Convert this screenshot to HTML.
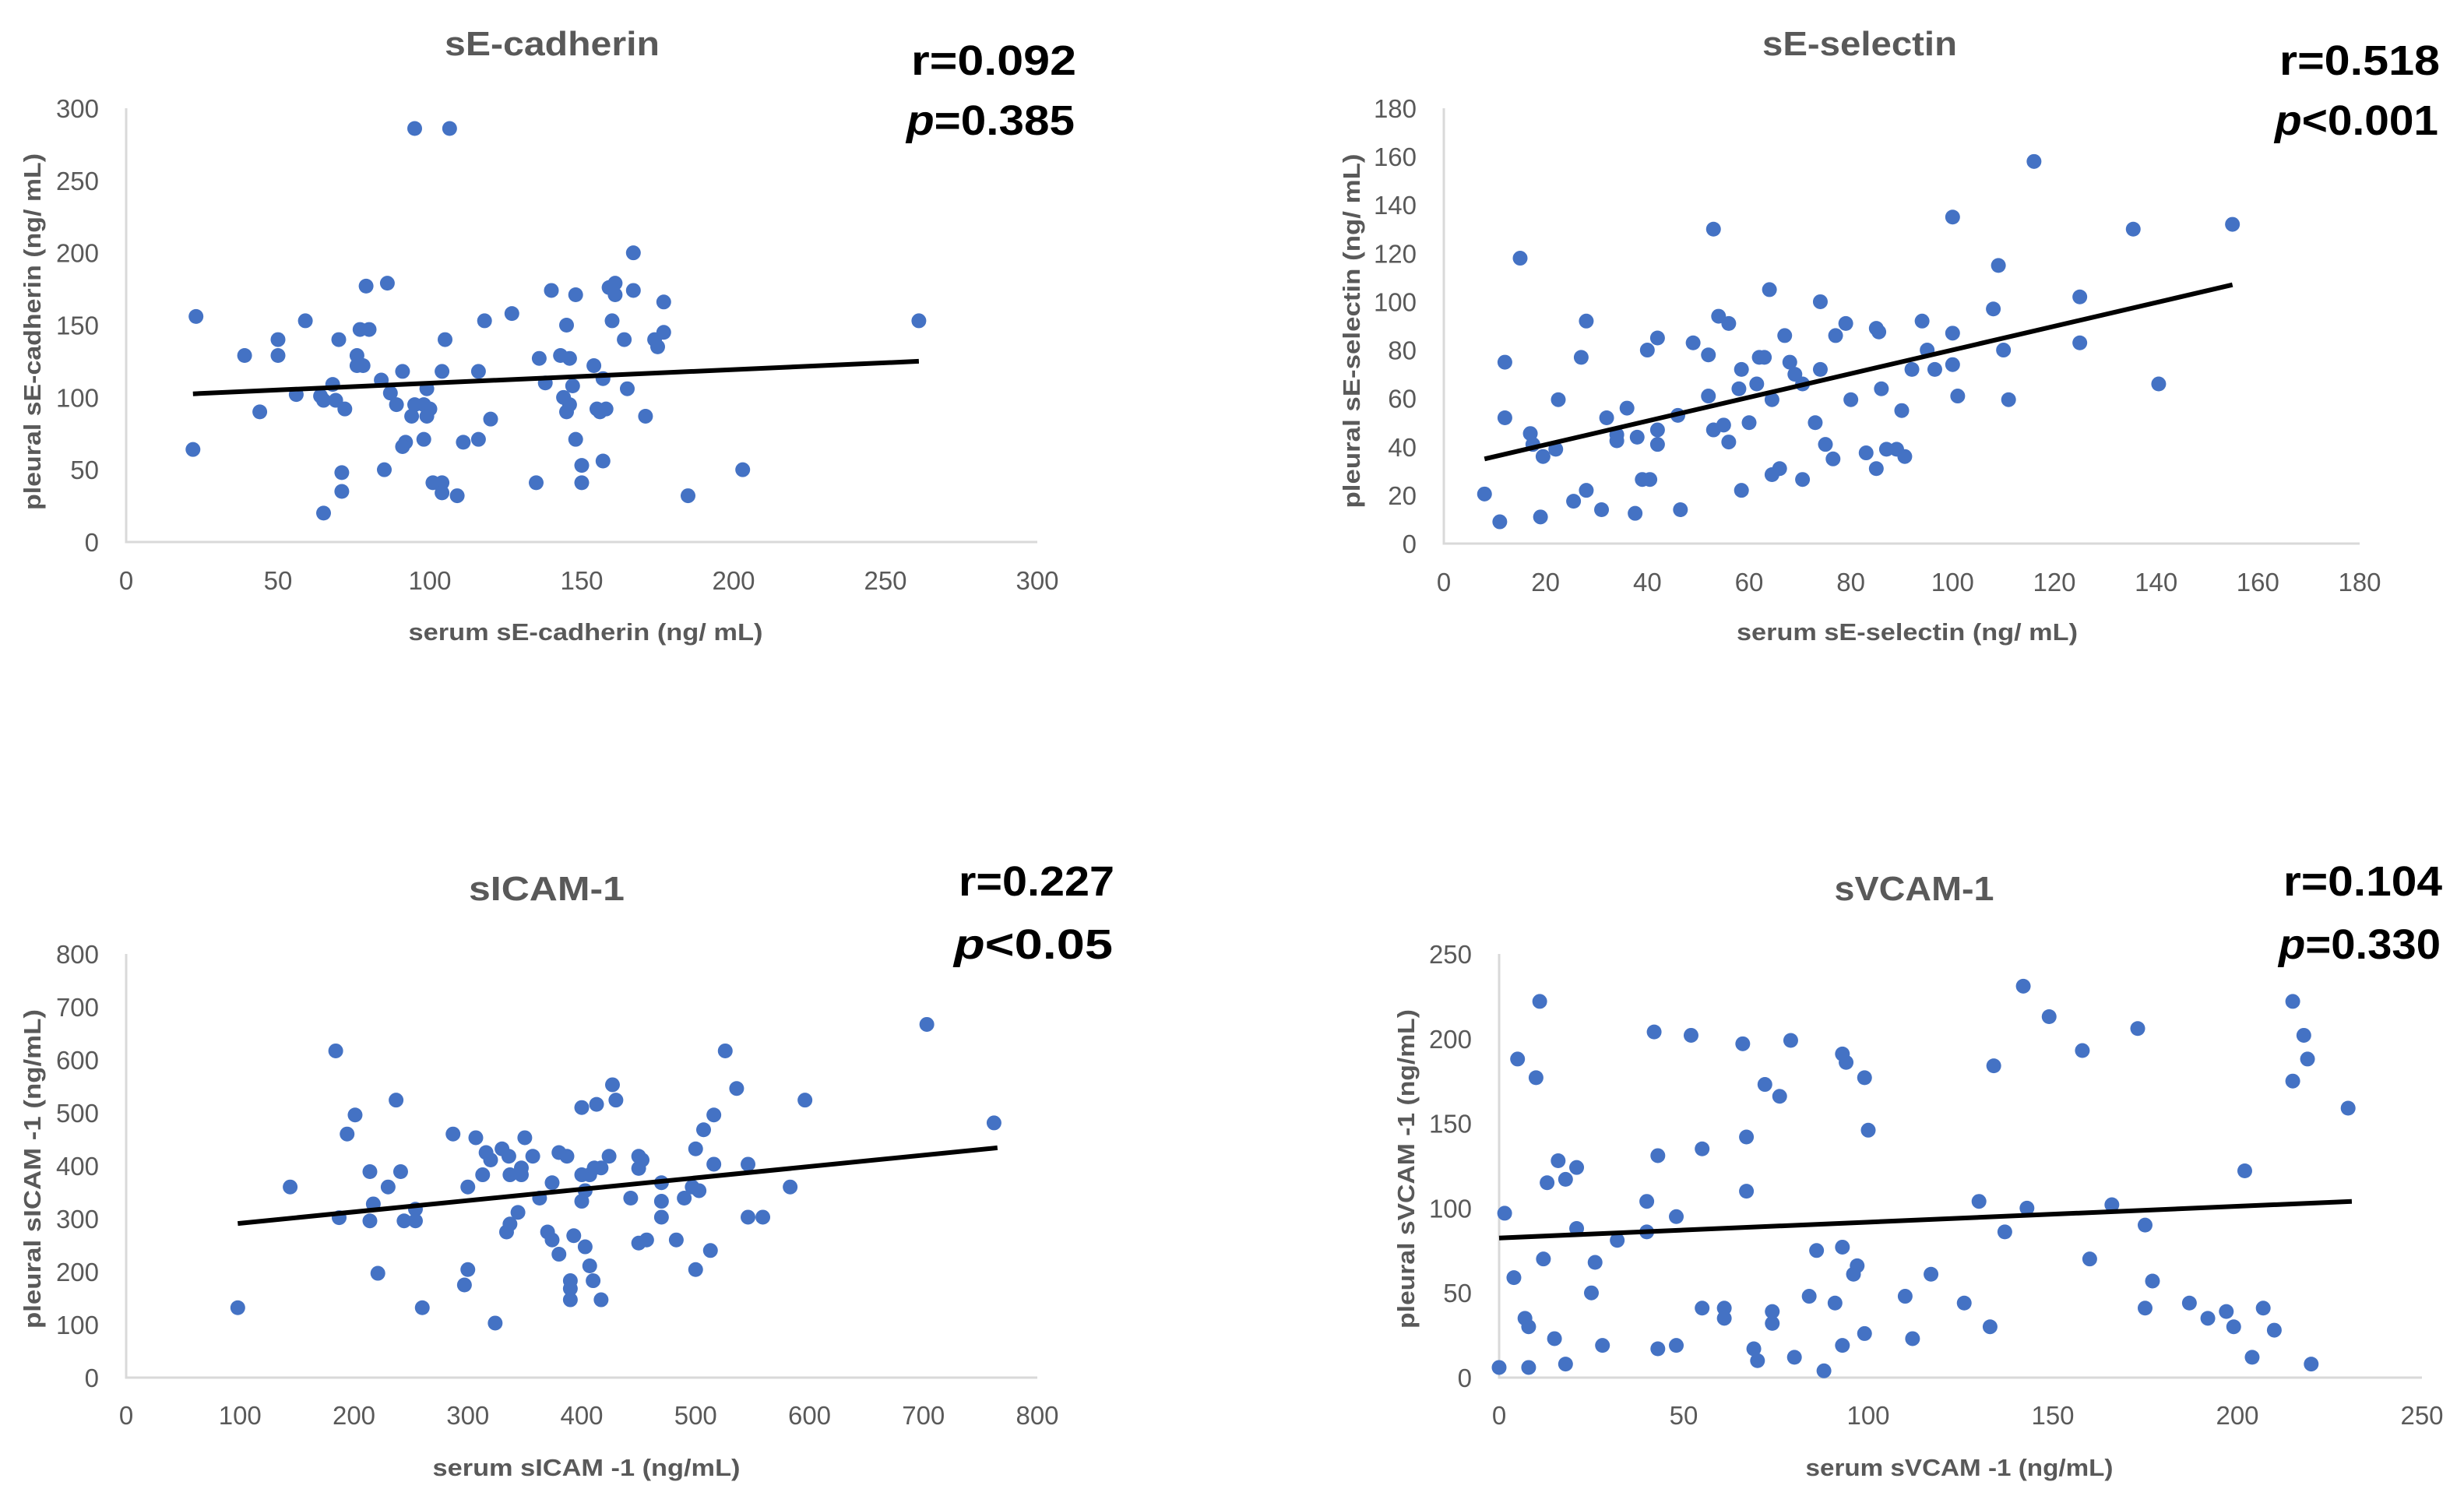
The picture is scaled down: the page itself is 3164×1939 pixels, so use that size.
<!DOCTYPE html>
<html><head><meta charset="utf-8"><style>
html,body{margin:0;padding:0;background:#fff}
svg{display:block}
text{font-family:"Liberation Sans",sans-serif}
</style></head><body>
<svg id="fig" width="3164" height="1939" viewBox="0 0 3164 1939" xmlns="http://www.w3.org/2000/svg"></svg>
<script>
// ---- Chart 1: sE-cadherin ----
const cadX = [95,106.5,167,79,86,140,148,159,161,161,167,177,23,59,118,127,145,160,261,177,174,175,164,50,70,77,80,105,39,50,76,76,78,91,104,116,136,143,146,154,157,138,147,84,68,99,165,56,64,65,69,87,89,95,98,100,72,94,99,44,144,146,145,155,156,158,171,120,98,92,91,111,116,148,22,85,71,150,157,203,71,101,104,104,109,135,150,185,65];
const cadY = [286,286,200,177,179,174,171,176,179,171,174,166,156,153,153,158,150,153,153,145,140,135,140,140,140,147,147,140,129,129,129,122,122,118,118,118,127,129,127,122,113,110,108,112,109,106,106,102,101,98,98,103,95,95,95,92,92,87,87,90,100,95,90,92,90,92,87,85,71,69,66,69,71,71,64,50,48,53,56,50,35,41,41,34,32,41,41,32,20];
const cadTrendX = [22,261];
const cadTrendY = [102.5,125];
const cadTicks = [0,50,100,150,200,250,300];

// ---- Chart 2: sE-selectin ----
const selX = [116,100,135.5,155,53,15,109,64,74,125,108,28,54,56,94,79,85,85.5,100,67,77,42,49,125,40,52,95,110,12,27,62,63,68,58.5,74,92,96.5,100,69,70.5,61.5,58,86,140.5,22.5,52,64.5,80,101,111,36,90,12,32,60,73,46,53,55,42,17,34,34,38,56,42,75,17.5,22,19.5,83,87,89,90.6,76.5,85,66,64.5,39,40.5,70.5,8,28,58.5,25.5,31,46.5,37.6,19,11];
const selY = [158,135,130,132,130,118,115,105,100,102,97,92,94,91,92,91,89,87.5,87,86,86,85,83,83,80,78,80,80,75,77,77,77,75,72,72,72,72,74,70,66,66,64,64,66,59.5,61,59.5,59.5,61,59.5,56,55,52,52,50,50,53,47,49,47,45.5,45,42.5,44,42,41,41,41,39,36,37.5,39,39,36,35,31,31,28.5,26.5,26.5,26.5,20.5,22,22,17.5,14,14,12.5,11,9];
const selTrendX = [8,155];
const selTrendY = [35,107];
const selTicks = [0,20,40,60,80,100,120,140,160,180];

// ---- Chart 3: sICAM-1 ----
const icamX = [98,184,526,703,427,430,400,413,536,596,237,201,516,194,287,307,350,507,762,500,316,320,330,336,357,380,387,424,450,453,450,516,546,214,241,313,337,347,347,374,400,407,411,417,144,230,300,470,497,503,583,403,217,254,363,400,443,470,490,344,187,214,244,254,470,546,559,337,334,370,374,393,403,450,457,483,513,380,407,221,300,500,297,390,390,410,390,417,260,324];
const icamY = [132,617,617,667,553,524,510,516,546,524,524,496,496,460,460,453,453,468,481,432,425,411,432,418,418,425,418,418,418,411,395,403,403,389,389,383,383,396,383,368,383,383,396,396,360,360,360,368,360,353,360,353,328,318,339,333,339,333,339,312,302,296,296,296,303,303,303,290,275,275,260,268,247,254,260,260,240,233,211,197,204,204,175,183,168,183,147,147,132,103];
const icamTrendX = [98,765];
const icamTrendY = [291,434];
const icamTicks = [0,100,200,300,400,500,600,700,800];

// ---- Chart 4: sVCAM-1 ----
const vcamX = [0,8,18,88,220,204,70,69,80,93,43,48,28,15,99,112,133,210,199,192,197,207,187,175,126,110,91,84,74,74,61,61,55,7,8,25,4,12,26,96,97,117,177,160,86,93,32,40,21,48,1.5,40,67,130,143,166,137,175,13,18,16,21,43,55,67,100,202,230,72,76,5,10,11,42,52,66,79,93,94,99,134,142,149,158,173,215,218,219,215];
const vcamY = [6,6,8,4,8,12,10,17,12,19,17,19,19,23,26,23,30,28,30,35,39,41,44,41,44,48,44,48,39,32,41,35,41,35,30,50,59,70,68,61,66,61,57,70,75,77,81,86,88,95,97,104,110,104,100,102,86,90,115,117,128,124,131,135,142,146,122,159,173,166,188,177,222,204,202,197,199,191,186,177,184,231,213,193,206,222,202,188,175];
const vcamTrendX = [0,231];
const vcamTrendY = [82.4,104];
const vcamTicks = [0,50,100,150,200,250];

const NS = "http://www.w3.org/2000/svg";
const svg = document.getElementById('fig');
function mk(tag, attrs, parent, txt){
  const e = document.createElementNS(NS, tag);
  for (const k in attrs) e.setAttribute(k, attrs[k]);
  if (txt !== undefined) e.textContent = txt;
  (parent || svg).appendChild(e);
  return e;
}

function drawChart(cfg){
  const g = mk('g', {});
  
  
  const sx = v => cfg.x0 + (v - 0) / cfg.max * (cfg.x1 - cfg.x0);
  const sy = v => cfg.y0 - (v - 0) / cfg.ymax * (cfg.y0 - cfg.y1);

  const ya = mk('line', {x1:cfg.x0, y1:cfg.y1, x2:cfg.x0, y2:cfg.y0, stroke:'#d9d9d9', 'stroke-width':3}, g);
  
  
  const xa = mk('line', {x1:cfg.x0-1.5, y1:cfg.y0, x2:cfg.x1, y2:cfg.y0, stroke:'#d9d9d9', 'stroke-width':3}, g);
  
  

  cfg.xt.forEach(t => {
    const e = mk('text', {x:sx(t), y:cfg.y0 + cfg.xtOff, 'font-size':33, fill:'#595959', 'text-anchor':'middle'}, g, String(t));
    
    
  });
  cfg.yt.forEach(t => {
    const e = mk('text', {x:cfg.x0 - 35, y:sy(t) + 12, 'font-size':33, fill:'#595959', 'text-anchor':'end'}, g, String(t));
    
    
  });

  cfg.xs.forEach((xv, i) => {
    const c = mk('circle', {cx:sx(xv), cy:sy(cfg.ys[i]), r:9.5, fill:'#4472c4'}, g);
    
    
  });

  const tl = mk('line', {x1:sx(cfg.tx[0]), y1:sy(cfg.ty[0]), x2:sx(cfg.tx[1]), y2:sy(cfg.ty[1]), stroke:'#000', 'stroke-width':6, 'stroke-linecap':'butt'}, g);
  
  

  const ti = mk('text', {x:cfg.title[0], y:cfg.title[1], 'font-size':44, 'font-weight':'bold', fill:'#595959', 'text-anchor':'middle', textLength:cfg.title[2], lengthAdjust:'spacingAndGlyphs'}, g, cfg.titleText);
  
  

  const r = mk('text', {x:cfg.stat[0], y:cfg.stat[1], 'font-size':54, 'font-weight':'bold', fill:'#000', textLength:cfg.stat[3], lengthAdjust:'spacingAndGlyphs'}, g, cfg.rText);
  
  
  const p = mk('text', {x:cfg.stat[0] - 6, y:cfg.stat[2], 'font-size':54, 'font-weight':'bold', fill:'#000', textLength:cfg.stat[3] + 4, lengthAdjust:'spacingAndGlyphs'}, g);
  
  
  mk('tspan', {'font-style':'italic'}, p, 'p');
  mk('tspan', {}, p, cfg.pText);

  const xt = mk('text', {x:cfg.xTitle[0], y:cfg.xTitle[1], 'font-size':31, 'font-weight':'bold', fill:'#595959', 'text-anchor':'middle', textLength:cfg.xTitle[2], lengthAdjust:'spacingAndGlyphs'}, g, cfg.xTitleText);
  
  
  const yt = mk('text', {x:0, y:0, 'font-size':31, 'font-weight':'bold', fill:'#595959', 'text-anchor':'middle', textLength:cfg.yTitle[2], lengthAdjust:'spacingAndGlyphs', transform:`translate(${cfg.yTitle[0]},${cfg.yTitle[1]}) rotate(-90)`}, g, cfg.yTitleText);
  
  
}

drawChart({name:'se-cadherin', x0:162, x1:1332, y0:696, y1:139, max:300, ymax:300, xt:cadTicks, yt:cadTicks, xtOff:61,
  xs:cadX, ys:cadY, tx:cadTrendX, ty:cadTrendY,
  titleText:'sE-cadherin', title:[709,71,276], rText:'r=0.092', pText:'=0.385', stat:[1170,96,173,212],
  xTitleText:'serum  sE-cadherin (ng/ mL)', xTitle:[752,822,455], yTitleText:'pleural  sE-cadherin (ng/ mL)', yTitle:[52,426,458]});

drawChart({name:'se-selectin', x0:1854, x1:3030, y0:698, y1:139, max:180, ymax:180, xt:selTicks, yt:selTicks, xtOff:61,
  xs:selX, ys:selY, tx:selTrendX, ty:selTrendY,
  titleText:'sE-selectin', title:[2388,71,250], rText:'r=0.518', pText:'<0.001', stat:[2927,96,173,206],
  xTitleText:'serum  sE-selectin (ng/ mL)', xTitle:[2449,822,438], yTitleText:'pleural  sE-selectin (ng/ mL)', yTitle:[1746,425,455]});

drawChart({name:'sicam-1', x0:162, x1:1332, y0:1769, y1:1225, max:800, ymax:800, xt:icamTicks, yt:icamTicks, xtOff:60,
  xs:icamX, ys:icamY, tx:icamTrendX, ty:icamTrendY,
  titleText:'sICAM-1', title:[702,1156,200], rText:'r=0.227', pText:'<0.05', stat:[1231,1150,1231,200],
  xTitleText:'serum sICAM -1 (ng/mL)', xTitle:[753,1895,395], yTitleText:'pleural sICAM -1 (ng/mL)', yTitle:[52,1501,410]});

drawChart({name:'svcam-1', x0:1925, x1:3110, y0:1769, y1:1225, max:250, ymax:250, xt:vcamTicks, yt:vcamTicks, xtOff:60,
  xs:vcamX, ys:vcamY, tx:vcamTrendX, ty:vcamTrendY,
  titleText:'sVCAM-1', title:[2458,1156,205], rText:'r=0.104', pText:'=0.330', stat:[2932,1150,1231,204],
  xTitleText:'serum sVCAM -1 (ng/mL)', xTitle:[2516,1895,395], yTitleText:'pleural sVCAM -1 (ng/mL)', yTitle:[1816,1501,410]});
</script>
</body></html>
